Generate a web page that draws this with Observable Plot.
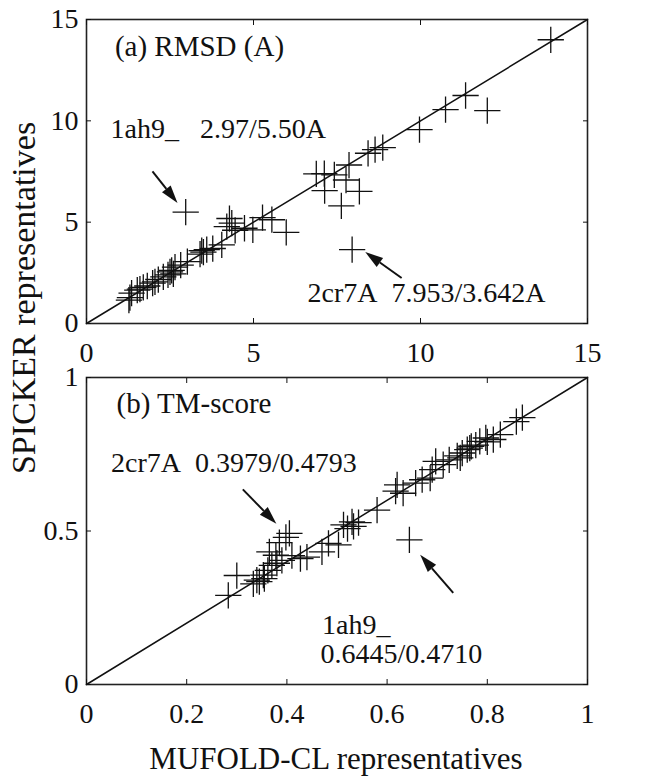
<!DOCTYPE html>
<html><head><meta charset="utf-8">
<script src="https://cdn.jsdelivr.net/npm/d3@7"></script>
<script src="https://cdn.jsdelivr.net/npm/@observablehq/plot@0.6"></script>
<style>
body{margin:0;background:#fff;}
#wrap{position:relative;width:659px;height:781px;font-family:"Liberation Serif",serif;color:#111;overflow:hidden;}
#wrap svg{position:absolute;left:0;}
.lab{position:absolute;white-space:nowrap;line-height:1;transform:translate(-50%,-50%);}
.lab.rot{transform:translate(-50%,-50%) rotate(-90deg);}
</style></head><body><div id="wrap"></div>
<script>
// Panel (a): RMSD (A)
const rmsdMufold  = [13.90,11.35,10.75,12.00,9.97,8.43,8.64,8.87,7.86,6.88,7.12,7.42,7.77,7.13,8.17,7.63,7.953,2.97,5.27,5.55,5.98,4.28,4.35,4.20,4.45,4.73,4.98,4.05,3.78,3.60,3.50,3.40,3.02,2.82,2.65,2.55,2.44,2.30,2.15,1.98,1.82,1.70,1.52,1.35,1.30,1.27,2.50,2.60,3.45,1.60,2.05];
const rmsdSpicker = [14.00,11.25,10.55,10.50,9.57,8.40,8.58,8.68,7.82,7.38,7.40,7.33,7.08,6.56,6.52,5.80,3.642,5.50,5.22,5.12,4.50,5.18,4.95,4.78,4.60,4.70,4.62,3.88,3.70,3.65,3.52,3.42,3.05,2.88,2.78,2.62,2.40,2.30,2.17,1.99,1.85,1.78,1.65,1.50,1.28,1.15,2.55,2.45,3.60,1.70,2.05];
// Panel (b): TM-score
const tmMufold  = [0.870,0.858,0.826,0.812,0.797,0.785,0.777,0.768,0.760,0.750,0.746,0.724,0.712,0.697,0.690,0.686,0.670,0.657,0.620,0.632,0.617,0.580,0.543,0.533,0.521,0.513,0.503,0.483,0.470,0.440,0.427,0.398,0.405,0.385,0.365,0.378,0.370,0.362,0.353,0.340,0.333,0.300,0.283,0.390,0.6445,0.380,0.345,0.530,0.765,0.740,0.800,0.410,0.355];
const tmSpicker = [0.869,0.856,0.814,0.798,0.803,0.792,0.780,0.776,0.765,0.754,0.738,0.732,0.716,0.727,0.700,0.672,0.667,0.656,0.650,0.623,0.630,0.568,0.527,0.515,0.508,0.520,0.455,0.460,0.432,0.415,0.410,0.479,0.492,0.462,0.432,0.421,0.388,0.372,0.356,0.340,0.328,0.355,0.290,0.404,0.4710,0.395,0.335,0.530,0.770,0.745,0.790,0.420,0.345];

const rmsdDomain = [0, 15];
const rmsdTicks = [0, 5, 10, 15];
const tmDomain = [0, 1];
const tmXTicks = [0, 0.2, 0.4, 0.6, 0.8, 1];
const tmYTicks = [0, 0.5, 1];

const rmsdNotes = [
  {text: "(a) RMSD (A)", x: 0.85, y: 13.65, size: 29},
  {text: "1ah9_\u00a0\u00a0\u00a02.97/5.50A", x: 0.72, y: 9.6, size: 28},
  {text: "2cr7A\u00a0\u00a07.953/3.642A", x: 6.62, y: 1.48, size: 28}
];
const rmsdArrows = [
  {x1: 1.99, y1: 7.48, x2: 2.74, y2: 5.92},
  {x1: 9.45, y1: 2.22, x2: 8.36, y2: 3.50}
];
const tmNotes = [
  {text: "(b) TM-score", x: 0.06, y: 0.913, size: 29},
  {text: "2cr7A\u00a0\u00a00.3979/0.4793", x: 0.049, y: 0.721, size: 28},
  {text: "1ah9_", x: 0.47, y: 0.193, size: 28},
  {text: "0.6445/0.4710", x: 0.467, y: 0.099, size: 28}
];
const tmArrows = [
  {x1: 0.313, y1: 0.634, x2: 0.38, y2: 0.522},
  {x1: 0.733, y1: 0.297, x2: 0.667, y2: 0.421}
];

const FONT = "Liberation Serif, serif";
const INK = "#111";
const fmt = d => `${d}`;

function panel({xs, ys, domain, xticks, yticks, notes, arrows, top, height, mt, mb}) {
  const pts = xs.map((x, i) => ({x, y: ys[i]}));
  const chart = Plot.plot({
    width: 659, height, marginLeft: 86, marginRight: 72, marginTop: mt, marginBottom: mb,
    style: {fontFamily: FONT, fontSize: "28px", background: "none", color: INK, overflow: "visible"},
    x: {domain, ticks: xticks, label: null},
    y: {domain, ticks: yticks, label: null},
    marks: [
      Plot.line(domain, {x: d => d, y: d => d, stroke: INK, strokeWidth: 1.5}),
      Plot.dot(pts, {x: "x", y: "y", symbol: "plus", r: 8.5, stroke: INK, strokeWidth: 1.3}),
      Plot.frame({stroke: "#222", strokeWidth: 1.6}),
      Plot.axisX(xticks, {anchor: "bottom", tickSize: 5, dy: -5, text: null, label: null}),
      Plot.axisX(xticks, {anchor: "top", tickSize: 5, dy: 5, text: null, label: null}),
      Plot.axisY(yticks, {anchor: "left", tickSize: 5, dx: 5, text: null, label: null}),
      Plot.axisY(yticks, {anchor: "right", tickSize: 5, dx: -5, text: null, label: null}),
      Plot.axisX(xticks, {anchor: "bottom", tickSize: 0, tickPadding: 19, label: null, fontSize: 28, fontFamily: FONT, tickFormat: fmt}),
      Plot.axisY(yticks, {anchor: "left", tickSize: 0, tickPadding: 8, label: null, fontSize: 28, fontFamily: FONT, tickFormat: fmt}),
      Plot.text(notes, {x: "x", y: "y", text: "text", textAnchor: "start", lineAnchor: "middle", fontSize: "size", fontFamily: FONT, fill: INK})
    ]
  });
  chart.style.top = top + "px";
  const sx = chart.scale("x"), sy = chart.scale("y");
  const g = d3.select(chart).append("g");
  for (const a of arrows) {
    const x1 = sx.apply(a.x1), y1 = sy.apply(a.y1), x2 = sx.apply(a.x2), y2 = sy.apply(a.y2);
    const ang = Math.atan2(y2 - y1, x2 - x1);
    const L = 18, W = 5.5;
    const bx = x2 - L * Math.cos(ang), by = y2 - L * Math.sin(ang);
    g.append("line").attr("x1", x1).attr("y1", y1).attr("x2", bx).attr("y2", by)
      .attr("stroke", INK).attr("stroke-width", 2);
    const px = -Math.sin(ang) * W, py = Math.cos(ang) * W;
    g.append("path").attr("d", `M${x2},${y2}L${bx + px},${by + py}L${bx - px},${by - py}Z`).attr("fill", INK);
  }
  return chart;
}

const wrap = document.getElementById("wrap");
wrap.appendChild(panel({xs: rmsdMufold, ys: rmsdSpicker, domain: rmsdDomain, xticks: rmsdTicks, yticks: rmsdTicks,
  notes: rmsdNotes, arrows: rmsdArrows, top: 0, height: 365, mt: 19, mb: 42}));
wrap.appendChild(panel({xs: tmMufold, ys: tmSpicker, domain: tmDomain, xticks: tmXTicks, yticks: tmYTicks,
  notes: tmNotes, arrows: tmArrows, top: 365, height: 381, mt: 12, mb: 62}));

const xl = document.createElement("div");
xl.className = "lab"; xl.textContent = "MUFOLD-CL representatives";
xl.style.left = "336px"; xl.style.top = "758px"; xl.style.fontSize = "31px";
wrap.appendChild(xl);
const yl = document.createElement("div");
yl.className = "lab rot"; yl.textContent = "SPICKER representatives";
yl.style.left = "24px"; yl.style.top = "298px"; yl.style.fontSize = "34px";
wrap.appendChild(yl);
</script></body></html>
